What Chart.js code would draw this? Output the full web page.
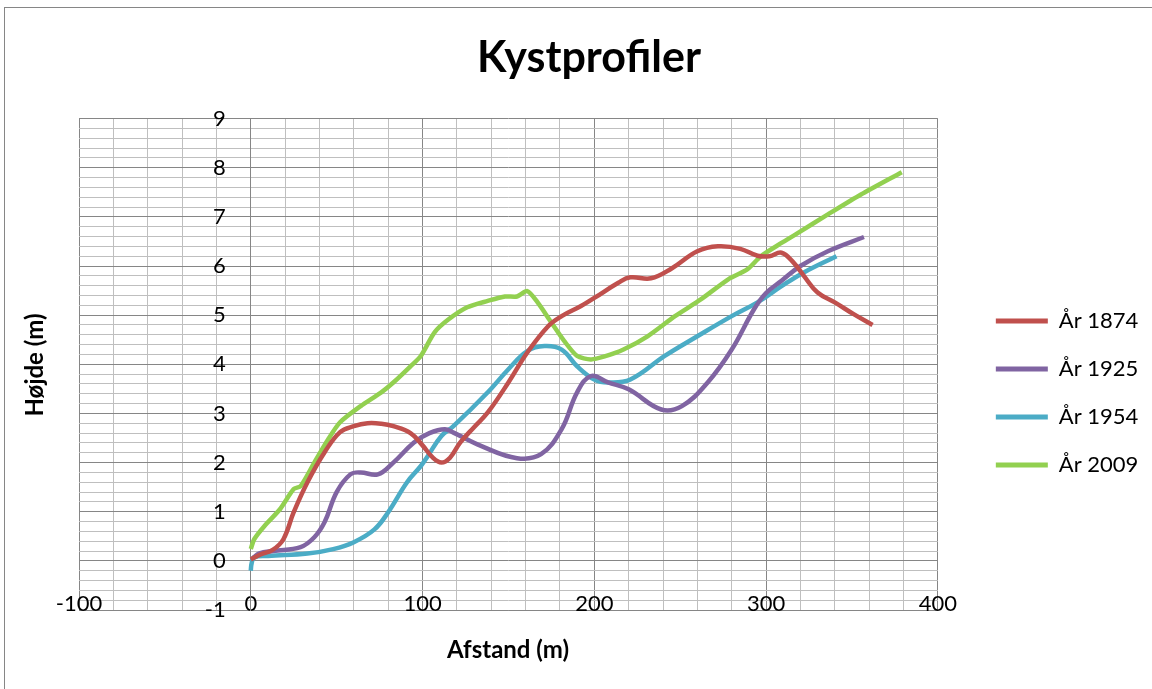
<!DOCTYPE html>
<html>
<head>
<meta charset="utf-8">
<script src="https://cdn.jsdelivr.net/npm/chart.js@4.4.1/dist/chart.umd.min.js"></script>
<style>
  html, body { margin: 0; padding: 0; background: #fff; }
  #wrap { width: 1152px; height: 689px; }
</style>
</head>
<body>
<div id="wrap"><canvas id="myChart" width="1152" height="689"></canvas></div>
<script>
// Kystprofiler - afstand (m) vs hoejde (m)
const labels = ['År 1874', 'År 1925', 'År 1954', 'År 2009'];
const colors = ['#C0504D', '#8064A2', '#4BACC6', '#92D050'];

const x1874 = [0, 5, 13, 19, 25, 33, 43, 52, 60, 68, 76, 83, 93, 100, 106, 111, 116, 122, 130, 138, 150, 161, 173, 181, 192, 200, 214, 221, 233, 245, 260, 272, 285, 295, 302, 309, 316, 322, 330, 340, 351, 362];
const y1874 = [0.03, 0.12, 0.23, 0.44, 0.99, 1.6, 2.21, 2.62, 2.74, 2.8, 2.79, 2.74, 2.6, 2.35, 2.1, 2.0, 2.1, 2.41, 2.72, 3.02, 3.63, 4.24, 4.77, 4.98, 5.18, 5.35, 5.66, 5.77, 5.75, 5.95, 6.3, 6.4, 6.35, 6.21, 6.2, 6.27, 6.07, 5.8, 5.46, 5.26, 5.02, 4.8];

const x1925 = [1, 5, 13, 29, 37, 43, 50, 58, 64, 74, 83, 95, 104, 113, 118, 134, 155, 169, 181, 190, 198, 208, 220, 239, 251, 266, 280, 293, 300, 309, 320, 336, 357];
const y1925 = [0.05, 0.15, 0.2, 0.28, 0.48, 0.79, 1.4, 1.76, 1.8, 1.76, 2.0, 2.41, 2.6, 2.68, 2.61, 2.34, 2.09, 2.17, 2.68, 3.43, 3.76, 3.63, 3.49, 3.08, 3.15, 3.63, 4.3, 5.12, 5.45, 5.7, 6.0, 6.3, 6.59];

const x1954 = [0, 0.5, 2, 10, 33, 48, 60, 72, 80, 91, 99, 103, 111, 118, 138, 150, 161, 171, 181, 190, 200, 208, 221, 241, 260, 280, 295, 309, 322, 341];
const y1954 = [-0.2, -0.05, 0.07, 0.1, 0.15, 0.24, 0.38, 0.64, 0.99, 1.6, 1.93, 2.13, 2.54, 2.74, 3.43, 3.9, 4.27, 4.37, 4.3, 3.96, 3.69, 3.63, 3.69, 4.17, 4.57, 4.98, 5.26, 5.59, 5.87, 6.2];

const x2009 = [0, 2, 8, 17, 25, 29, 37, 45, 52, 64, 76, 83, 93, 99, 107, 115, 126, 138, 148, 155, 161, 167, 175, 183, 190, 198, 206, 217, 231, 247, 262, 278, 289, 297, 309, 317, 336, 355, 379];
const y2009 = [0.24, 0.44, 0.71, 1.05, 1.46, 1.52, 2.0, 2.47, 2.82, 3.15, 3.43, 3.63, 3.96, 4.17, 4.65, 4.91, 5.16, 5.29, 5.38, 5.38, 5.49, 5.26, 4.85, 4.45, 4.17, 4.1, 4.16, 4.3, 4.57, 4.98, 5.32, 5.73, 5.93, 6.2, 6.47, 6.64, 7.05, 7.45, 7.91];

const xs = [x1874, x1925, x1954, x2009];
const ys = [y1874, y1925, y1954, y2009];

const isWhole = (v, step) => Math.abs(v / step - Math.round(v / step)) < 1e-6;

// outer frame, title/label offsets, axis titles
const extras = {
  id: 'extras',
  afterLayout(chart) {
    // centre the title on the whole chart, not on the padded box
    const t = chart.titleBlock;
    t.left -= 24.5;
    t.right -= 24.5;
  },
  beforeDraw(chart) {
    const c = chart.ctx;
    c.save();
    c.fillStyle = '#fff';
    c.fillRect(0, 0, chart.width, chart.height);
    c.strokeStyle = '#868686';
    c.lineWidth = 1;
    c.strokeRect(4.5, 7.5, 1300, 800);
    c.restore();

    // y labels sit left of the axis at x = 0, with a gap
    const items = chart.scales.y.getLabelItems();
    items.forEach(it => {
      if (!it._moved) {
        it.options.translation[0] -= 25;
        it._moved = true;
      }
    });
  },
  afterDraw(chart) {
    const c = chart.ctx;
    c.save();
    c.fillStyle = '#000';
    c.font = 'bold 24px Lato';
    c.textAlign = 'center';
    c.textBaseline = 'middle';
    c.fillText('Afstand (m)', 508, 650);
    c.translate(35, 365);
    c.rotate(-Math.PI / 2);
    c.fillText('Højde (m)', 0, 0);
    c.restore();
  }
};

const ctx = document.getElementById('myChart');

new Chart(ctx, {
  type: 'line',
  data: {
    datasets: labels.map((lab, i) => ({
      label: lab,
      data: xs[i].map((x, j) => ({ x: x, y: ys[i][j] })),
      borderColor: colors[i],
      backgroundColor: colors[i],
      borderWidth: 4.5,
      pointRadius: 0,
      tension: i === 3 ? 0.25 : 0.4,
      fill: false
    }))
  },
  options: {
    responsive: false,
    animation: false,
    layout: {
      padding: { left: 79, right: 4, top: 0, bottom: 79 }
    },
    scales: {
      x: {
        type: 'linear',
        min: -100,
        max: 400,
        position: { y: -1 },
        ticks: {
          stepSize: 20,
          autoSkip: false,
          maxRotation: 0,
          padding: -19,
          color: '#000',
          font: { family: 'Lato', size: 22 },
          callback: (v) => isWhole(v, 100) ? String(Math.round(v)) : ''
        },
        grid: {
          drawTicks: false,
          color: (c) => (c.tick && isWhole(c.tick.value, 100)) ? '#868686' : '#BFBFBF',
          lineWidth: 1
        },
        border: { display: true, color: '#868686' }
      },
      y: {
        type: 'linear',
        min: -1,
        max: 9,
        position: { x: 0 },
        ticks: {
          stepSize: 0.2,
          autoSkip: false,
          color: '#000',
          font: { family: 'Lato', size: 22 },
          callback: (v) => isWhole(v, 1) ? String(Math.round(v)) : ''
        },
        grid: {
          drawTicks: false,
          color: (c) => (c.tick && isWhole(c.tick.value, 1)) ? '#868686' : '#BFBFBF',
          lineWidth: 1
        },
        border: { display: true, color: '#868686' }
      },
      // empty spacer between plot and legend
      gap: {
        type: 'linear',
        position: 'right',
        grid: { display: false },
        border: { display: false },
        ticks: { display: false },
        afterFit: (s) => { s.width = 32; }
      }
    },
    plugins: {
      title: {
        display: true,
        text: 'Kystprofiler',
        color: '#000',
        font: { family: 'Lato', size: 43, weight: 'bold' },
        padding: { top: 32, bottom: 35 }
      },
      legend: {
        position: 'right',
        title: {
          display: true,
          text: ' ',
          font: { size: 10 },
          padding: { top: 82, bottom: 82 }
        },
        labels: {
          color: '#000',
          font: { family: 'Lato', size: 22 },
          boxWidth: 52,
          boxHeight: 5,
          padding: 26,
          generateLabels: (chart) => {
            const items = Chart.defaults.plugins.legend.labels.generateLabels(chart);
            items.forEach(it => { it.lineWidth = 0; });
            return items;
          }
        }
      },
      tooltip: { enabled: false }
    }
  },
  plugins: [extras]
});
</script>
</body>
</html>
